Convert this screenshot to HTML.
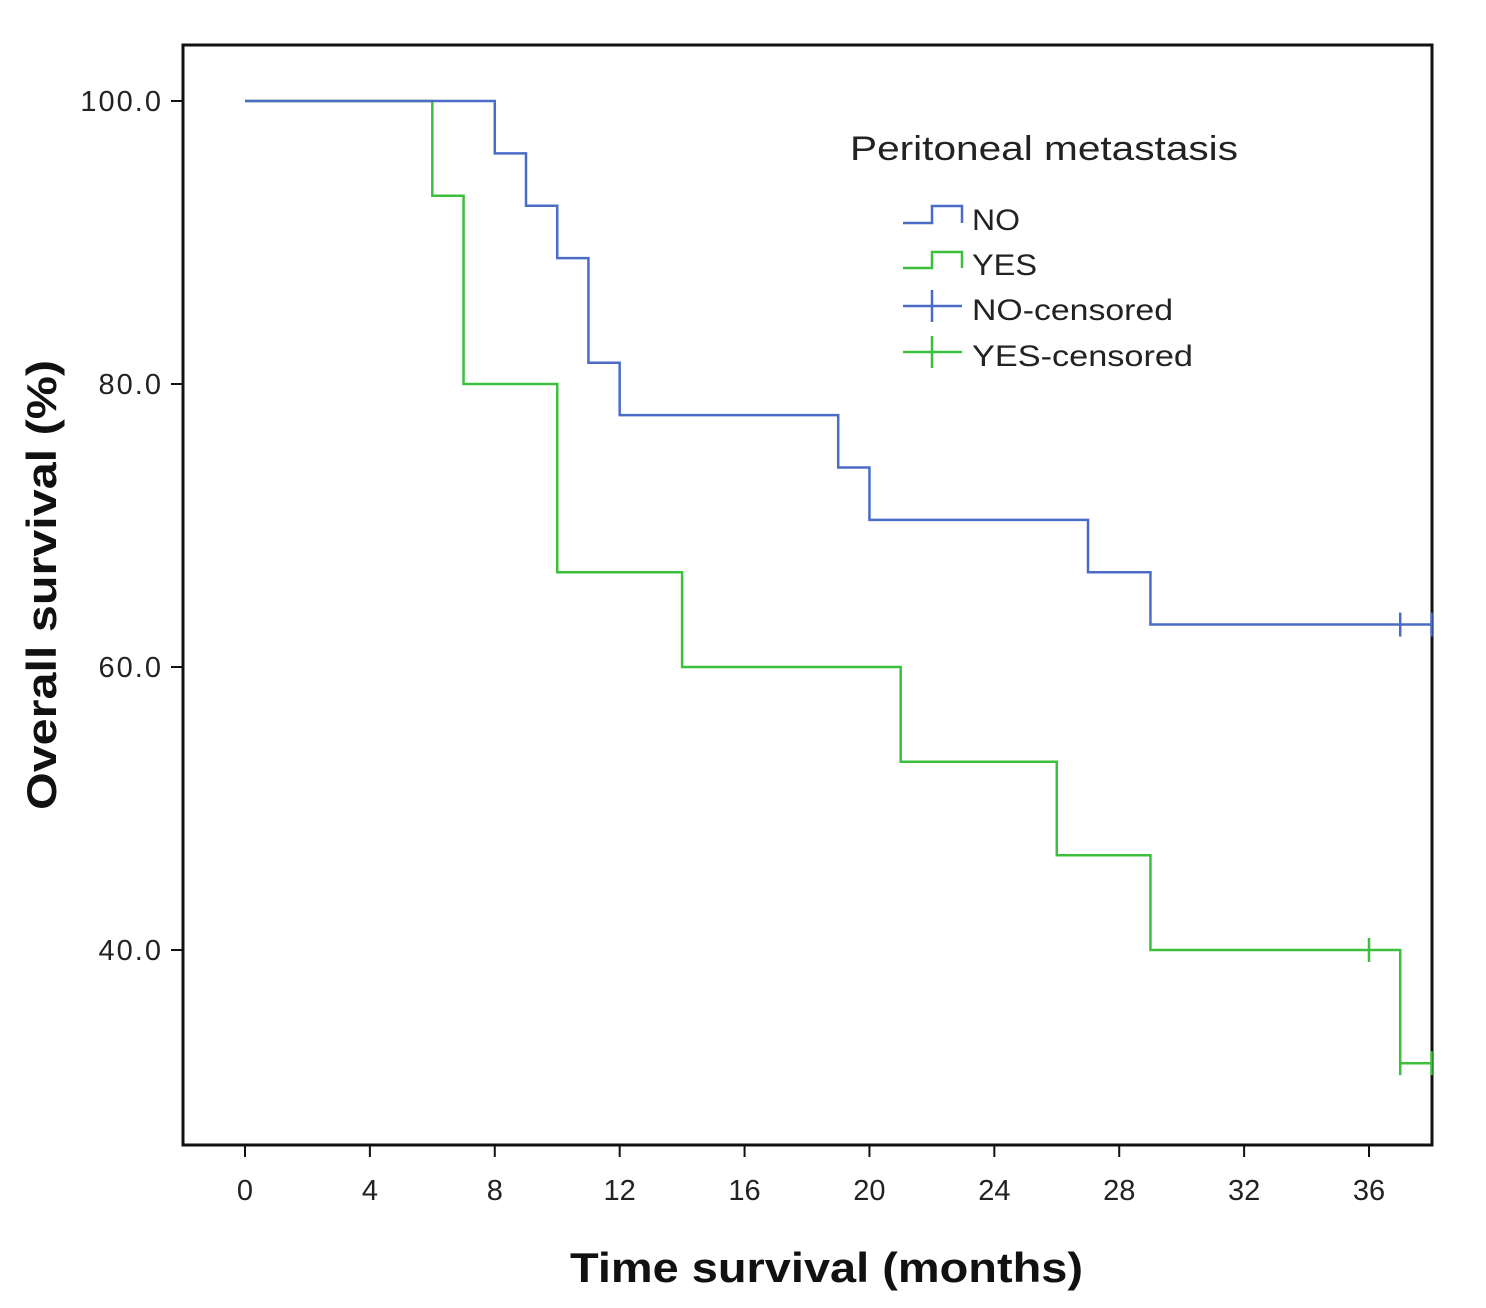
<!DOCTYPE html>
<html><head><meta charset="utf-8"><style>
body{margin:0;background:#fff}
svg{display:block;font-family:"Liberation Sans",sans-serif}
</style></head><body>
<svg id="chart" width="1486" height="1308">
<rect x="0" y="0" width="1486" height="1308" fill="#fff"/>
<rect x="183" y="45" width="1249" height="1100" fill="none" stroke="#111" stroke-width="3"/>
<g id="xt"></g><g id="yt"></g><g id="series"></g>
<text x="570" y="1282" font-size="42" font-weight="bold" fill="#111" textLength="513" lengthAdjust="spacingAndGlyphs">Time survival  (months)</text>
<text transform="translate(56,810) rotate(-90)" font-size="42" font-weight="bold" fill="#111" textLength="450" lengthAdjust="spacingAndGlyphs">Overall survival  (%)</text>
<g>
<text x="850" y="160" font-size="34" fill="#222" textLength="388" lengthAdjust="spacingAndGlyphs">Peritoneal metastasis</text>
<path d="M903,223 H932 V206 H962 V223" fill="none" stroke="#4a6cc7" stroke-width="2.5"/>
<text x="972" y="230" font-size="30" fill="#222" textLength="48" lengthAdjust="spacingAndGlyphs">NO</text>
<path d="M903,268 H932 V252 H962 V268" fill="none" stroke="#3cbf3c" stroke-width="2.5"/>
<text x="972" y="275" font-size="30" fill="#222" textLength="65" lengthAdjust="spacingAndGlyphs">YES</text>
<path d="M903,306 H962 M932,290 V322" stroke="#4a6cc7" stroke-width="2.5"/>
<text x="972" y="320" font-size="30" fill="#222" textLength="201" lengthAdjust="spacingAndGlyphs">NO-censored</text>
<path d="M903,352 H962 M932,336 V368" stroke="#3cbf3c" stroke-width="2.5"/>
<text x="972" y="366" font-size="30" fill="#222" textLength="221" lengthAdjust="spacingAndGlyphs">YES-censored</text>
</g>
</svg>
<script>
const xTicks=[0,4,8,12,16,20,24,28,32,36];
const yTicks=[40,60,80,100];
const noTimes=[0,8,9,10,11,12,19,20,27,29];
const noSurv=[100,96.3,92.6,88.9,81.5,77.8,74.1,70.4,66.7,63.0];
const noCensTimes=[37,38];
const yesTimes=[0,6,7,10,14,21,26,29,37];
const yesSurv=[100,93.3,80,66.7,60,53.3,46.7,40,32];
const yesCensTimes=[36,37,38];
const xMax=38;
const NS="http://www.w3.org/2000/svg";
const sx=t=>245+t*(1369-245)/36;
const sy=v=>101+(100-v)*(950-101)/60;
function mk(tag,attrs,parent){const e=document.createElementNS(NS,tag);for(const k in attrs)e.setAttribute(k,attrs[k]);parent.appendChild(e);return e;}
const xt=document.getElementById('xt'),yt=document.getElementById('yt'),sg=document.getElementById('series');
xTicks.forEach(t=>{
 const l=mk('line',{x1:sx(t),x2:sx(t),y1:1145,y2:1157,stroke:'#111','stroke-width':2},xt);
 
 
 const tx=mk('text',{x:sx(t),y:1200,'font-size':29,'text-anchor':'middle',fill:'#222'},xt);
 tx.textContent=t;
 
 
});
yTicks.forEach(v=>{
 const l=mk('line',{x1:171,x2:183,y1:sy(v),y2:sy(v),stroke:'#111','stroke-width':2},yt);
 
 
 const s=v.toFixed(1);
 const tx=mk('text',{x:163,y:sy(v)+10,'font-size':29,'text-anchor':'end',fill:'#222','letter-spacing':2},yt);
 tx.textContent=s;
 
 
});
function stepPath(times,surv){let d='M'+sx(times[0])+','+sy(surv[0]);for(let i=1;i<times.length;i++){d+=' H'+sx(times[i])+' V'+sy(surv[i]);}d+=' H'+sx(xMax);return d;}
function survAt(times,surv,t){let s=surv[0];for(let i=0;i<times.length;i++)if(times[i]<=t)s=surv[i];return s;}
function draw(times,surv,cens,color,name){
 const p=mk('path',{d:stepPath(times,surv),fill:'none',stroke:color,'stroke-width':2.5},sg);
 
 
 cens.forEach(t=>{const y=sy(survAt(times,surv,t));
  const c=mk('path',{d:'M'+sx(t)+','+(y-12)+' V'+(y+12),stroke:color,'stroke-width':2.5},sg);
  
  
 });
}
draw(yesTimes,yesSurv,yesCensTimes,'#3cbf3c','yes');
draw(noTimes,noSurv,noCensTimes,'#4a6cc7','no');
</script>
</body></html>
